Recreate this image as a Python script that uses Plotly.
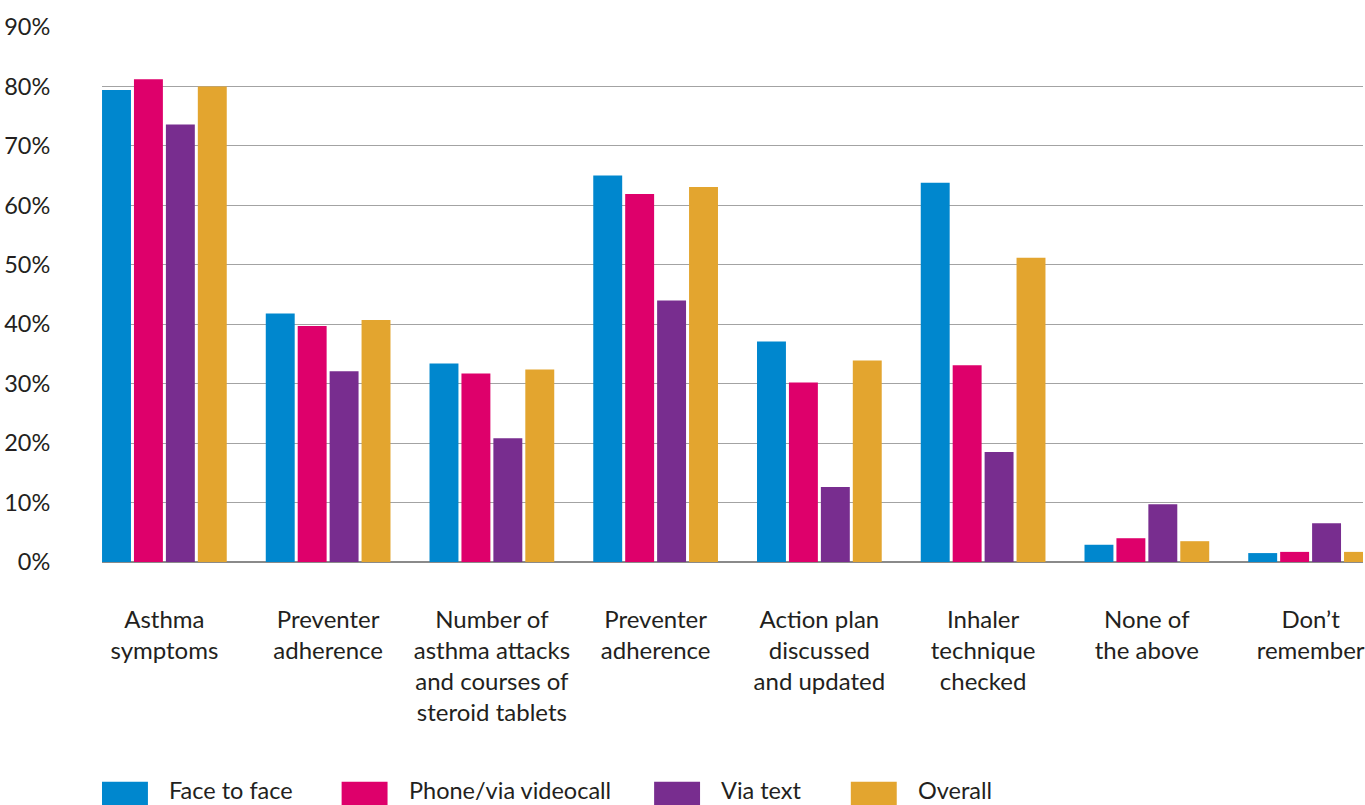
import plotly.graph_objects as go

# Survey categories (multi-line tick labels)
categories = [
    "Asthma<br>symptoms",
    "Preventer<br>adherence",
    "Number of<br>asthma attacks<br>and courses of<br>steroid tablets",
    "Preventer<br>adherence",
    "Action plan<br>discussed<br>and updated",
    "Inhaler<br>technique<br>checked",
    "None of<br>the above",
    "Don\u2019t<br>remember",
]

series_names = ["Face to face", "Phone/via videocall", "Via text", "Overall"]

face_to_face = [79.4, 41.8, 33.4, 65.0, 37.1, 63.8, 2.9, 1.5]
phone_video = [81.2, 39.7, 31.7, 61.9, 30.2, 33.1, 4.0, 1.7]
via_text = [73.6, 32.1, 20.8, 44.0, 12.6, 18.5, 9.7, 6.5]
overall = [80.0, 40.7, 32.4, 63.1, 33.9, 51.2, 3.5, 1.7]

y_ticks = [0, 10, 20, 30, 40, 50, 60, 70, 80, 90]
y_tick_labels = ["0%", "10%", "20%", "30%", "40%", "50%", "60%", "70%", "80%", "90%"]

colors = ["#0087CE", "#DE006B", "#782D8F", "#E3A52F"]
text_color = "#231F20"
font_family = "Lato, 'Open Sans', sans-serif"

values = [face_to_face, phone_video, via_text, overall]
x_pos = list(range(len(categories)))

W, H = 1365, 805
PLOT_L, PLOT_TOP, PLOT_BOTTOM = 102, 26.5, 562
plot_h = PLOT_BOTTOM - PLOT_TOP
plot_w = W - PLOT_L


def px_to_paper_x(px):
    return (px - PLOT_L) / plot_w


def px_to_paper_y(py):
    return (PLOT_BOTTOM - py) / plot_h


fig = go.Figure()
for name, vals, col in zip(series_names, values, colors):
    fig.add_trace(go.Bar(
        x=x_pos, y=vals, name=name,
        marker=dict(color=col, line=dict(width=0)),
        showlegend=False,
    ))

# Legend drawn below the axis as colour swatches with labels
legend_left = [102, 342, 655, 852]
for name, col, lx in zip(series_names, colors, legend_left):
    fig.add_shape(type="rect", xref="paper", yref="paper",
                  x0=px_to_paper_x(lx), x1=px_to_paper_x(lx + 46),
                  y0=px_to_paper_y(782), y1=px_to_paper_y(808),
                  fillcolor=col, line=dict(width=0), layer="above")
    fig.add_annotation(xref="paper", yref="paper",
                       x=px_to_paper_x(lx + 66), y=px_to_paper_y(790),
                       text=name, showarrow=False, xanchor="left", yanchor="middle",
                       borderpad=0,
                       font=dict(family=font_family, size=23.5, color=text_color))

fig.update_layout(
    width=W, height=H,
    margin=dict(l=PLOT_L, r=0, t=PLOT_TOP, b=H - PLOT_BOTTOM),
    paper_bgcolor="white", plot_bgcolor="white",
    barmode="group", bargap=0.22, bargroupgap=0.094,
    font=dict(family=font_family, size=24, color=text_color),
    xaxis=dict(
        range=[-0.381, 7.320],
        tickmode="array", tickvals=x_pos, ticktext=categories,
        showgrid=False, zeroline=False, showline=False,
        ticks="outside", ticklen=36, tickcolor="rgba(0,0,0,0)",
        ticklabeloverflow="allow",
        tickfont=dict(family=font_family, size=24, color=text_color),
    ),
    yaxis=dict(
        range=[0, 90],
        tickmode="array", tickvals=y_ticks, ticktext=y_tick_labels,
        showgrid=True, gridcolor="#a3a3a3", gridwidth=1.2,
        zeroline=True, zerolinecolor="#8a8a8a", zerolinewidth=1.5,
        showline=False,
        ticks="outside", ticklen=46, tickcolor="rgba(0,0,0,0)",
        tickfont=dict(family=font_family, size=23.5, color=text_color),
    ),
)

fig.write_html("out.html")
